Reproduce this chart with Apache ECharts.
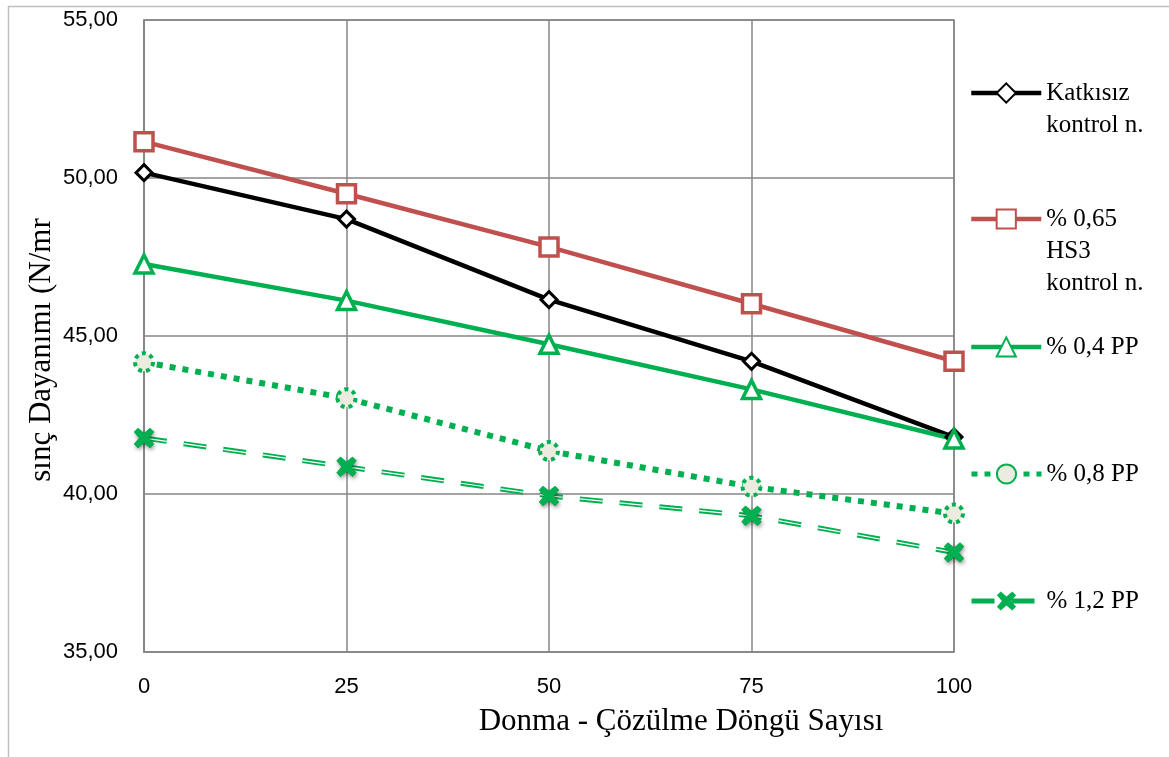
<!DOCTYPE html>
<html>
<head>
<meta charset="utf-8">
<script src="https://cdn.jsdelivr.net/npm/echarts@6/dist/echarts.min.js"></script>
<style>
  html, body { margin: 0; padding: 0; background: #fff; }
  #chart { width: 1169px; height: 757px; }
</style>
</head>
<body>
<div id="chart"></div>
<script>
// Freeze-thaw cycles on the x axis
const cycles = [0, 25, 50, 75, 100];

// Compressive strength (N/mm²) per mix
const katkisiz = [50.17, 48.70, 46.15, 44.20, 41.80];
const hs3      = [51.15, 49.50, 47.82, 46.02, 44.20];
const pp04     = [47.28, 46.12, 44.74, 43.31, 41.74];
const pp08     = [44.17, 43.03, 41.36, 40.23, 39.38];
const pp12     = [41.77, 40.86, 39.94, 39.31, 38.15];

const seriesNames = ['Katkısız\nkontrol n.', '% 0,65\nHS3\nkontrol n.', '% 0,4 PP', '% 0,8 PP', '% 1,2 PP'];
const yTicks = { min: 35, max: 55, step: 5 };
const xTicks = { min: 0, max: 100, step: 25 };

const GREEN = '#00B050';
const RED = '#C0504D';
const GRID = '#868686';
const xPath = 'path://M2,0 L5,2.6 L8,0 L10,2 L7.4,5 L10,8 L8,10 L5,7.4 L2,10 L0,8 L2.6,5 L0,2 Z';

const pairs = arr => cycles.map((c, i) => [c, arr[i]]);

const chart = echarts.init(document.getElementById('chart'), null, { renderer: 'canvas' });

// One legend block per series; leading blank lines keep the icon on the first text line
const legendRowY = [93, 219, 347, 474, 601];
const legendLineW = [4.5, 4.5, 4.5, 5, 5];
const LINE_H = 32;
const legends = seriesNames.map((name, i) => {
  const n = name.split('\n').length;
  const boxH = (2 * n - 1) * LINE_H;
  return {
    data: [name],
    orient: 'vertical',
    left: 969,
    top: legendRowY[i] - boxH / 2,
    padding: 0,
    itemWidth: 70,
    itemHeight: 24,
    selectedMode: false,
    lineStyle: { width: legendLineW[i] },
    formatter: nm => ' \n'.repeat(n - 1) + nm,
    textStyle: {
      fontFamily: 'Liberation Serif',
      fontSize: 25,
      color: '#000',
      lineHeight: LINE_H
    }
  };
});

chart.setOption({
  animation: false,
  backgroundColor: '#fff',
  grid: {
    left: 144, top: 20, right: 215, bottom: 105,
    show: true, borderColor: GRID, borderWidth: 1.5
  },
  legend: legends,
  xAxis: {
    type: 'value',
    min: xTicks.min, max: xTicks.max, interval: xTicks.step,
    axisLine: { show: true, lineStyle: { color: GRID, width: 1.5 } },
    axisTick: { show: false },
    splitLine: { show: true, lineStyle: { color: GRID, width: 1.5 } },
    axisLabel: { margin: 24, fontFamily: 'Liberation Sans', fontSize: 22, color: '#000' }
  },
  yAxis: {
    type: 'value',
    min: yTicks.min, max: yTicks.max, interval: yTicks.step,
    axisLine: { show: true, lineStyle: { color: GRID, width: 1.5 } },
    axisTick: { show: false },
    splitLine: { show: true, lineStyle: { color: GRID, width: 1.5 } },
    axisLabel: {
      margin: 26, fontFamily: 'Liberation Sans', fontSize: 22, color: '#000',
      formatter: v => v.toFixed(2).replace('.', ',')
    }
  },
  graphic: [
    {
      type: 'rect', left: 6, top: 4, silent: true, z: -10,
      shape: { width: 1200, height: 800 },
      style: { fill: 'none', stroke: '#bfbfbf', lineWidth: 1.5 }
    },
    {
      type: 'text', x: 681, y: 722, silent: true,
      style: {
        text: 'Donma - Çözülme Döngü Sayısı',
        fontFamily: 'Liberation Serif', fontSize: 31, fill: '#000',
        align: 'center', verticalAlign: 'middle'
      }
    },
    {
      type: 'text', x: 42, y: 350, rotation: Math.PI / 2, silent: true,
      style: {
        text: 'sınç Dayanımı (N/mr',
        fontFamily: 'Liberation Serif', fontSize: 31, fill: '#000',
        align: 'center', verticalAlign: 'middle'
      }
    }
  ],
  series: [
    {
      name: seriesNames[0], type: 'line', data: pairs(katkisiz),
      symbol: 'diamond', symbolSize: 16,
      lineStyle: { color: '#000', width: 4.5 },
      itemStyle: { color: '#fff', borderColor: '#000', borderWidth: 3 }
    },
    {
      name: seriesNames[1], type: 'line', data: pairs(hs3),
      symbol: 'rect', symbolSize: 18,
      lineStyle: { color: RED, width: 4.5 },
      itemStyle: { color: '#fff', borderColor: RED, borderWidth: 3.5 }
    },
    {
      name: seriesNames[2], type: 'line', data: pairs(pp04),
      symbol: 'triangle', symbolSize: 18,
      lineStyle: { color: GREEN, width: 4.5 },
      itemStyle: { color: '#fff', borderColor: GREEN, borderWidth: 3.5 }
    },
    {
      name: seriesNames[3], type: 'line', data: pairs(pp08),
      symbol: 'circle', symbolSize: 18,
      lineStyle: { color: GREEN, width: 6, type: [6, 7], cap: 'butt' },
      itemStyle: { color: '#ecebe0', borderColor: GREEN, borderWidth: 4, borderType: [4, 4] }
    },
    {
      name: seriesNames[4], type: 'line', data: pairs(pp12),
      symbol: xPath, symbolSize: 20,
      lineStyle: { color: GREEN, width: 5, type: [23, 17], cap: 'butt' },
      itemStyle: { color: GREEN },
      z: 2
    },
    {
      // thin white core that turns the 1,2 PP stroke into a double line
      name: 'pp12-core', type: 'line', data: pairs(pp12),
      symbol: 'none', silent: true,
      lineStyle: { color: '#fff', width: 1.2, type: [23, 17], cap: 'butt' },
      z: 3
    },
    {
      // 1,2 PP markers drawn above the double line
      name: 'pp12-marks', type: 'line', data: pairs(pp12),
      symbol: xPath, symbolSize: 20, silent: true,
      lineStyle: { opacity: 0 },
      itemStyle: {
        color: GREEN,
        shadowBlur: 4, shadowColor: 'rgba(0,0,0,0.45)', shadowOffsetX: 1, shadowOffsetY: 2
      },
      z: 4
    }
  ]
});
</script>
</body>
</html>
